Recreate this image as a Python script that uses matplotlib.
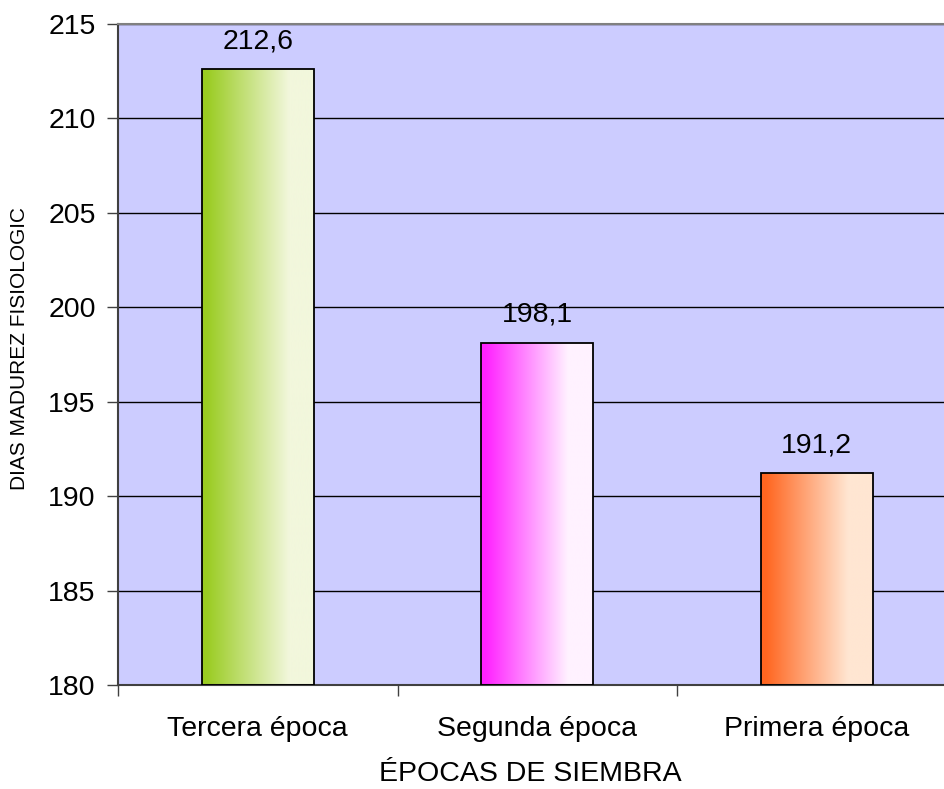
import numpy as np
import matplotlib.pyplot as plt
from matplotlib.colors import LinearSegmentedColormap

plt.rcParams['font.family'] = ['Liberation Sans', 'DejaVu Sans']

categories = ["Tercera época", "Segunda época", "Primera época"]
values = [212.6, 198.1, 191.2]
value_labels = ["212,6", "198,1", "191,2"]
yticks = [180, 185, 190, 195, 200, 205, 210, 215]
start_colors = ["#9ACC22", "#FF22FF", "#FF6620"]
end_colors = ["#F2F7DC", "#FFF2FF", "#FFE6D2"]

W, H = 944, 789
fig = plt.figure(figsize=(W / 100, H / 100), dpi=100)
left, right, top, bottom = 118, 956.5, 24, 685
ax = fig.add_axes([left / W, 1 - bottom / H, (right - left) / W, (bottom - top) / H])
ax.set_facecolor("#CCCCFF")

x = np.arange(len(categories))
ax.set_xlim(-0.5, len(categories) - 0.5)
ax.set_ylim(180, 215)

ax.yaxis.grid(True, color="black", linewidth=1.0)
ax.set_axisbelow(True)

bars = ax.bar(x, np.array(values) - 180, bottom=180, width=0.4,
              facecolor="none", edgecolor="black", linewidth=1.3, zorder=3)

# horizontal gradient fill, clipped to each bar
grad = np.linspace(0, 1, 256).reshape(1, -1)
for bar, c0, c1 in zip(bars, start_colors, end_colors):
    cmap = LinearSegmentedColormap.from_list("g", [(0, c0), (0.04, c0), (0.78, c1), (1, c1)])
    x0 = bar.get_x()
    im = ax.imshow(grad, cmap=cmap, aspect="auto", zorder=2, interpolation="bilinear",
                   extent=[x0, x0 + bar.get_width(), 180, bar.get_y() + bar.get_height()])
    im.set_clip_path(bar)

for xi, v, lab in zip(x, values, value_labels):
    ax.annotate(lab, (xi, v), xytext=(0, 11), textcoords="offset points",
                ha="center", va="bottom", fontsize=20.5)

ax.set_yticks(yticks)
ax.set_yticklabels([str(t) for t in yticks], fontsize=20.5)
ax.set_xticks(np.arange(len(categories) + 1) - 0.5, minor=False)
ax.set_xticklabels([])
ax.set_xticks(x, minor=True)
ax.set_xticklabels(categories, minor=True, fontsize=20.5)
ax.tick_params(axis="x", which="major", length=8, width=1, color="#404040", direction="out")
ax.tick_params(axis="x", which="minor", length=0, pad=22)
ax.tick_params(axis="y", length=8, width=1, color="#404040", pad=8)

for s in ["top", "right"]:
    ax.spines[s].set_color("#808080")
    ax.spines[s].set_linewidth(1.5)
ax.spines["left"].set_color("#404040")
ax.spines["left"].set_linewidth(1.5)
ax.spines["bottom"].set_color("#404040")
ax.spines["bottom"].set_linewidth(1.5)

fig.text(530 / W, 1 - 774 / H, "ÉPOCAS DE SIEMBRA",
         ha="center", va="center", fontsize=20.5)
fig.text(20 / W, 1 - 490 / H, "DIAS MADUREZ FISIOLOGIC", rotation=90,
         ha="center", va="bottom", fontsize=15)

fig.savefig("out.png", dpi=100)
